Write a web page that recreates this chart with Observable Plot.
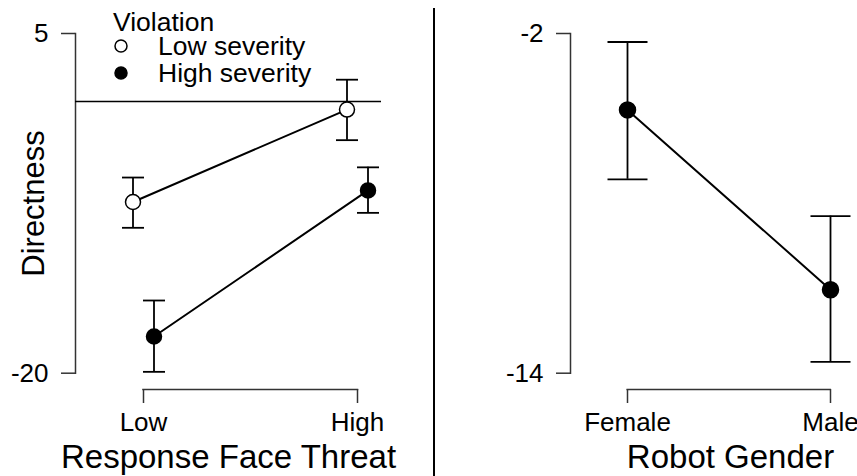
<!DOCTYPE html>
<html>
<head>
<meta charset="utf-8">
<script src="https://cdn.jsdelivr.net/npm/d3@7"></script>
<script src="https://cdn.jsdelivr.net/npm/@observablehq/plot@0.6"></script>
<style>
  html, body { margin: 0; padding: 0; background: #fff; overflow: hidden; }
  #wrap { position: relative; width: 857px; height: 476px; overflow: hidden;
          font-family: "Liberation Sans", Arial, sans-serif; color: #000; }
  #left { position: absolute; left: 0; top: 0; width: 434px; }
  #right { position: absolute; left: 434px; top: 0; width: 456px; }
  #divider { position: absolute; left: 433px; top: 8px; width: 2px; height: 468px; background: #000; }
  #legend { position: absolute; left: 0; top: 0; font-size: 26.5px; }
  #legend .row { position: absolute; white-space: nowrap; line-height: 26.5px; height: 26.5px; }
  #legend svg { position: absolute; overflow: visible; }
</style>
</head>
<body>
<div id="wrap">
  <div id="left"></div>
  <div id="divider"></div>
  <div id="right"></div>
  <div id="legend"></div>
</div>
<script>
// Directness by response face threat, split by violation severity
const faceThreat = ["Low", "High"];
const severityLevels = ["Low severity", "High severity"];
const severityFill = ["#fff", "#000"];
const lowSeverityMean = [-7.4, -0.6];
const lowSeverityLower = [-9.3, -2.85];
const lowSeverityUpper = [-5.6, 1.6];
const highSeverityMean = [-17.3, -6.55];
const highSeverityLower = [-19.9, -8.2];
const highSeverityUpper = [-14.65, -4.85];
const leftTicks = [5, -20];

// Directness by robot gender
const robotGender = ["Female", "Male"];
const genderMean = [-4.7, -11.05];
const genderLower = [-7.15, -13.6];
const genderUpper = [-2.3, -8.45];
const rightTicks = [-2, -14];

const rows = (levels, mean, lower, upper) =>
  levels.map((x, i) => ({x, mean: mean[i], lower: lower[i], upper: upper[i]}));

// horizontal cap for the ends of an error bar; half-width equals r
const capSymbol = {
  draw(context, size) {
    const w = Math.sqrt(size / Math.PI);
    context.moveTo(-w, 0);
    context.lineTo(w, 0);
  }
};

const fontFamily = '"Liberation Sans", Arial, sans-serif';
const axisColor = "#333";
const tickFont = 26;
const titleFont = 33;
const svgStyle = {fontFamily, fontSize: `${tickFont}px`, color: "#000", background: "none", overflow: "visible", maxWidth: "none"};

function seriesMarks(data, {dx = 0, fill, r, capR}) {
  return [
    Plot.ruleX(data, {x: "x", y1: "lower", y2: "upper", dx, stroke: "#000", strokeWidth: 1.8}),
    Plot.dot(data, {x: "x", y: "lower", dx, symbol: capSymbol, r: capR, fill: "none", stroke: "#000", strokeWidth: 1.8}),
    Plot.dot(data, {x: "x", y: "upper", dx, symbol: capSymbol, r: capR, fill: "none", stroke: "#000", strokeWidth: 1.8}),
    Plot.line(data, {x: "x", y: "mean", dx, stroke: "#000", strokeWidth: 2}),
    Plot.dot(data, {x: "x", y: "mean", dx, r, fill, stroke: "#000", strokeWidth: 1.5})
  ];
}

const lowSeverity = rows(faceThreat, lowSeverityMean, lowSeverityLower, lowSeverityUpper);
const highSeverity = rows(faceThreat, highSeverityMean, highSeverityLower, highSeverityUpper);

const leftPlot = Plot.plot({
  width: 434,
  height: 476,
  marginTop: 33,
  marginBottom: 87,
  marginLeft: 75,
  marginRight: 53,
  style: svgStyle,
  x: {type: "point", domain: faceThreat, range: [142.5, 357], padding: 0},
  y: {domain: [-20, 5], insetBottom: 16.3},
  marks: [
    Plot.frame({anchor: "left", insetBottom: 16.3, stroke: axisColor, strokeWidth: 1.5}),
    Plot.frame({anchor: "bottom", insetLeft: 67.5, insetRight: 24, stroke: axisColor, strokeWidth: 1.5}),
    Plot.ruleY([0], {stroke: "#000", strokeWidth: 1.5}),
    Plot.axisY({
      ticks: leftTicks, tickSize: 14, tickPadding: 13, tickFormat: (d) => `${d}`,
      stroke: axisColor, strokeWidth: 1.5, fontSize: tickFont, label: null
    }),
    Plot.text(["Directness"], {
      text: (d) => d, frameAnchor: "left", rotate: -90, dx: -41, dy: -8,
      textAnchor: "middle", lineAnchor: "middle", fontSize: 31
    }),
    Plot.axisX({
      tickSize: 14, tickPadding: 9, stroke: axisColor, strokeWidth: 1.5, fontSize: tickFont, label: null
    }),
    Plot.axisX({
      ticks: [], tickSize: 0, fontSize: titleFont,
      label: "Response Face Threat", labelAnchor: "center", labelArrow: "none", labelOffset: 78
    }),
    ...seriesMarks(lowSeverity, {dx: -10.5, fill: severityFill[0], r: 7.5, capR: 11}),
    ...seriesMarks(highSeverity, {dx: 10.5, fill: severityFill[1], r: 7.5, capR: 11})
  ]
});
document.getElementById("left").append(leftPlot);

const gender = rows(robotGender, genderMean, genderLower, genderUpper);

const rightPlot = Plot.plot({
  width: 456,
  height: 476,
  marginTop: 33,
  marginBottom: 87,
  marginLeft: 136,
  marginRight: 0,
  style: svgStyle,
  x: {type: "point", domain: robotGender, range: [192.7, 395.7], padding: 0},
  y: {domain: [-14, -2], insetBottom: 16.3},
  marks: [
    Plot.frame({anchor: "left", insetBottom: 16.3, stroke: axisColor, strokeWidth: 1.5}),
    Plot.frame({anchor: "bottom", insetLeft: 56.7, insetRight: 60.3, stroke: axisColor, strokeWidth: 1.5}),
    Plot.axisY({
      ticks: rightTicks, tickSize: 14, tickPadding: 13, tickFormat: (d) => `${d}`,
      stroke: axisColor, strokeWidth: 1.5, fontSize: tickFont, label: null
    }),
    Plot.axisX({
      tickSize: 14, tickPadding: 9, stroke: axisColor, strokeWidth: 1.5, fontSize: tickFont, label: null
    }),
    Plot.axisX({
      ticks: [], tickSize: 0, fontSize: titleFont,
      label: "Robot Gender", labelAnchor: "center", labelArrow: "none", labelOffset: 78
    }),
    ...seriesMarks(gender, {fill: "#000", r: 8, capR: 20})
  ]
});
document.getElementById("right").append(rightPlot);

// legend: title plus one row per severity level
const legend = d3.select("#legend");
legend.append("div").attr("class", "row").style("left", "113px").style("top", "8.5px").text("Violation");
severityLevels.forEach((name, i) => {
  const top = 33 + 26.5 * i;
  const row = legend.append("div").attr("class", "row").style("left", "0px").style("top", `${top}px`);
  const svg = row.append("svg").attr("width", 14).attr("height", 14)
    .style("left", "113.7px").style("top", "6px");
  svg.append("circle").attr("cx", 7).attr("cy", 7).attr("r", 6)
    .attr("fill", severityFill[i]).attr("stroke", "#000").attr("stroke-width", 1.5);
  row.append("span").style("position", "absolute").style("left", "158px").text(name);
});
</script>
</body>
</html>
